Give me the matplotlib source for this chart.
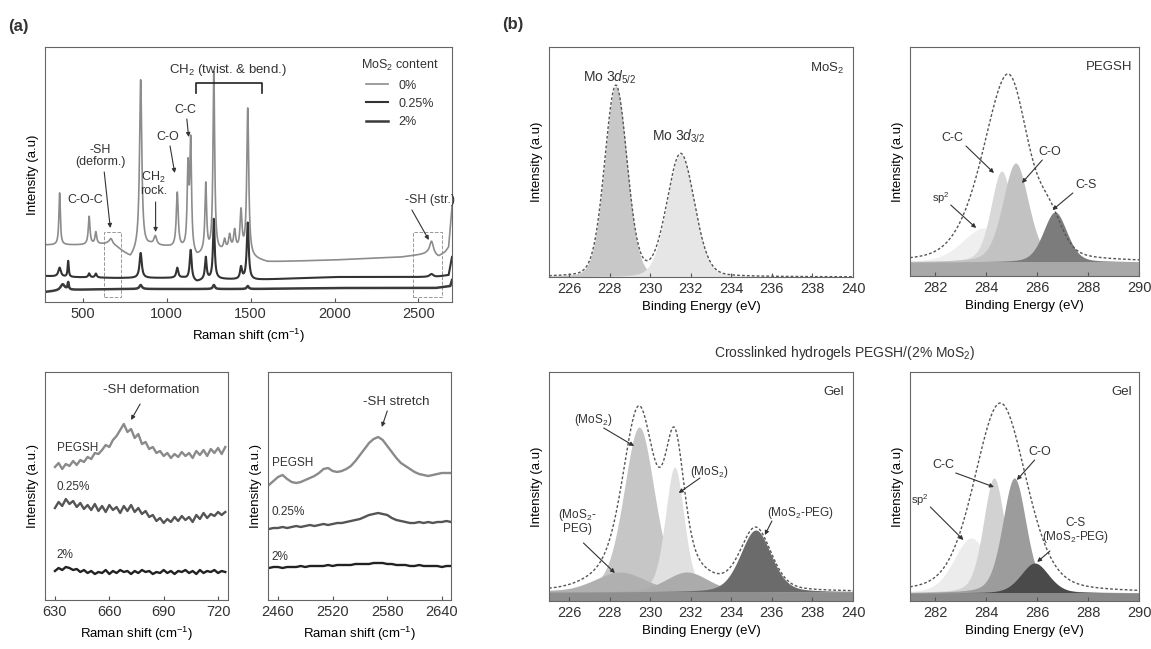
import numpy as np
import matplotlib.pyplot as plt
from matplotlib.patches import Rectangle

plt.rcParams['font.family'] = ['Liberation Sans', 'DejaVu Sans']
plt.rcParams['mathtext.fontset'] = 'custom'
plt.rcParams['mathtext.rm'] = 'Liberation Sans'
plt.rcParams['mathtext.it'] = 'Liberation Sans:italic'
plt.rcParams['text.color'] = '#333333'
plt.rcParams['axes.edgecolor'] = '#666666'
plt.rcParams['xtick.color'] = '#555555'
plt.rcParams['xtick.labelcolor'] = '#333333'

# ---------------- Raman survey (a) ----------------
raman_labels = ['0%', '0.25%', '2%']
raman_colors = ['#8c8c8c', '#333333', '#3a3a3a']
raman_widths = [1.2, 1.5, 1.8]

base_x_0 = [275, 350, 500, 650, 700, 784, 820, 900, 1000, 1100, 1180, 1220, 1300, 1400, 1500, 1600, 2000, 2400, 2500, 2550, 2620, 2660, 2680, 2690, 2700]
base_y_0 = [57, 57, 57, 58, 55, 44, 50, 56, 55, 52, 44, 48, 49, 52, 44, 40, 42, 45, 47, 48, 45, 50, 55, 75, 95]
peak_c_0 = [362, 538, 578, 668, 845, 932, 1063, 1127, 1143, 1233, 1281, 1345, 1375, 1405, 1443, 1483, 2578]
peak_h_0 = [52, 28, 12, 6, 170, 9, 55, 80, 108, 68, 180, 10, 14, 18, 40, 147, 14]
peak_w_0 = [5, 6, 6, 12, 8, 10, 7, 6, 6, 6, 6, 7, 7, 7, 7, 7, 14]

base_x_25 = [275, 400, 700, 1100, 1180, 1220, 1300, 1500, 2000, 2600, 2680, 2700]
base_y_25 = [26, 25, 24, 24, 20, 22, 23, 22, 25, 25, 27, 45]
peak_c_25 = [362, 413, 538, 578, 845, 1063, 1143, 1233, 1281, 1443, 1483, 2578]
peak_h_25 = [9, 16, 4, 4, 25, 10, 30, 22, 60, 12, 57, 3]
peak_w_25 = [9, 4, 6, 6, 8, 7, 7, 6, 6, 7, 7, 14]

base_x_2 = [275, 400, 700, 1500, 2000, 2600, 2690, 2700]
base_y_2 = [10, 12, 13, 13, 14, 14, 16, 22]
peak_c_2 = [380, 413, 845, 1281, 1483]
peak_h_2 = [6, 7, 4, 4, 3]
peak_w_2 = [15, 4, 9, 7, 7]

# ---------------- Raman insets ----------------
sh_def_x = list(range(630, 726, 2))
sh_def_peg = [133, 137, 131, 136, 134, 139, 135, 140, 138, 143, 141, 147, 146, 150, 155, 153,
              160, 164, 170, 176, 168, 171, 162, 166, 156, 158, 151, 153, 147, 149, 144, 147,
              142, 146, 143, 148, 144, 147, 142, 149, 145, 150, 144, 151, 147, 152, 146, 153]
sh_def_025 = [92, 98, 94, 101, 96, 99, 93, 97, 91, 95, 90, 96, 89, 94, 88, 95,
              90, 93, 87, 94, 89, 95, 88, 92, 86, 89, 83, 85, 79, 82, 77, 81,
              78, 83, 79, 84, 80, 83, 78, 85, 81, 87, 82, 86, 84, 88, 85, 88]
sh_def_2 = [29, 32, 30, 33, 32, 30, 31, 28, 30, 27, 29, 26, 28, 27, 30, 26,
            29, 27, 30, 28, 29, 26, 29, 27, 30, 28, 29, 26, 28, 27, 30, 27,
            29, 26, 29, 28, 30, 27, 29, 26, 30, 27, 29, 28, 30, 27, 29, 28]

sh_str_x = list(range(2450, 2651, 5))
sh_str_peg = [115, 119, 123, 125, 121, 118, 117, 118, 120, 122, 124, 127, 131, 132, 129, 128,
              129, 131, 134, 139, 145, 151, 157, 161, 163, 160, 154, 148, 142, 137, 134, 131,
              128, 126, 125, 124, 125, 126, 127, 127, 127]
sh_str_025 = [71, 72, 72, 73, 72, 73, 74, 73, 74, 75, 74, 75, 76, 75, 76, 77,
              77, 78, 79, 80, 81, 83, 85, 86, 87, 86, 85, 82, 80, 79, 78, 77,
              77, 78, 77, 78, 77, 78, 78, 79, 78]
sh_str_2 = [32, 33, 33, 32, 33, 33, 33, 34, 33, 34, 34, 34, 34, 35, 34, 35,
            35, 35, 35, 36, 36, 36, 36, 37, 37, 37, 36, 36, 35, 35, 35, 34,
            34, 35, 34, 34, 34, 34, 33, 34, 34]

# ---------------- XPS (b) ----------------
# Mo 3d of MoS2: components (center eV, height, FWHM)
mo_c = [228.3, 231.5]
mo_h = [190, 122]
mo_w = [1.3, 1.6]
mo_colors = ['#c8c8c8', '#e6e6e6']

# C 1s of PEGSH: sp2, C-C, C-O, C-S
peg_bg = 14
peg_c = [283.9, 284.6, 285.15, 286.7]
peg_h = [34, 91, 99, 50]
peg_w = [2.0, 1.0, 1.2, 1.1]
peg_colors = ['#efefef', '#d8d8d8', '#c2c2c2', '#7c7c7c']
peg_env_c = [284.2, 285.0, 286.5]
peg_env_h = [75, 132, 35]
peg_env_w = [2.2, 1.7, 1.2]

# Mo 3d of gel
gel_mo_bg = 9
gel_mo_c = [229.45, 231.2, 228.5, 231.8, 235.2]
gel_mo_h = [165, 125, 20, 20, 62]
gel_mo_w = [1.8, 1.1, 3.0, 2.5, 1.8]
gel_mo_colors = ['#c6c6c6', '#e0e0e0', '#b0b0b0', '#ababab', '#6b6b6b']

# C 1s of gel: sp2, C-C, C-O, C-S
gel_c_bg = 8
gel_c_c = [283.4, 284.3, 285.1, 285.9]
gel_c_h = [55, 115, 115, 30]
gel_c_w = [1.6, 1.0, 1.1, 1.3]
gel_c_colors = ['#ececec', '#d2d2d2', '#9c9c9c', '#4a4a4a']
gel_env_c = [284.55]
gel_env_h = [190]
gel_env_w = [2.4]


def lorentz(x, centers, heights, widths):
    y = np.zeros_like(x)
    for c, h, w in zip(centers, heights, widths):
        y += h / (1 + ((x - c) / w) ** 2)
    return y


def pvoigt(x, c, h, fwhm, eta=0.3):
    s = fwhm / 2
    r2 = ((x - c) / s) ** 2
    return h * ((1 - eta) * np.exp(-np.log(2) * r2) + eta / (1 + r2))


W, H = 1151, 649
fig = plt.figure(figsize=(W / 100, H / 100), dpi=100)


def add_ax(l, t, r, b):
    return fig.add_axes([l / W, 1 - b / H, (r - l) / W, (b - t) / H])


arrow = dict(arrowstyle='-|>', color='#333333', lw=0.8, mutation_scale=6, shrinkA=0, shrinkB=0)
fs_tick = 10.5
fs_lab = 9.5
fs_ann = 9

# ---- (a) top Raman ----
ax = add_ax(45, 47, 452, 302)
x = np.linspace(275, 2700, 5000)
traces = [
    np.interp(x, base_x_0, base_y_0) + lorentz(x, peak_c_0, peak_h_0, peak_w_0),
    np.interp(x, base_x_25, base_y_25) + lorentz(x, peak_c_25, peak_h_25, peak_w_25),
    np.interp(x, base_x_2, base_y_2) + lorentz(x, peak_c_2, peak_h_2, peak_w_2),
]
for y, lab, col, lw in zip(traces, raman_labels, raman_colors, raman_widths):
    ax.plot(x, y, color=col, lw=lw, label=lab)
ax.set_xlim(275, 2700)
ax.set_ylim(0, 255)
ax.set_yticks([])
ax.set_xticks([500, 1000, 1500, 2000, 2500])
ax.tick_params(axis='x', direction='in', length=3, labelsize=fs_tick)
ax.set_xlabel('Raman shift (cm$^{-1}$)', fontsize=fs_lab)
ax.set_ylabel('Intensity (a.u)', fontsize=fs_lab)
leg = ax.legend(title='MoS$_2$ content', frameon=False, loc='upper right',
                bbox_to_anchor=(0.995, 1.0), fontsize=9, title_fontsize=9,
                handlelength=1.8, labelspacing=0.5)
for r in [(625, 725), (2470, 2640)]:
    ax.add_patch(Rectangle((r[0], 5), r[1] - r[0], 65, fill=False, ls='--', lw=0.7, ec='#999999'))
ax.plot([1173, 1173, 1568, 1568], [209, 219, 219, 209], color='#222222', lw=1.2)
ax.text(1365, 232, 'CH$_2$ (twist. & bend.)', ha='center', va='center', fontsize=9.5)
ax.text(515, 102, 'C-O-C', ha='center', va='center', fontsize=fs_ann)
ax.text(604, 146, '-SH\n(deform.)', ha='center', va='center', fontsize=fs_ann, linespacing=1.0)
ax.annotate('', xy=(664, 74), xytext=(628, 130), arrowprops=arrow)
ax.text(922, 119, 'CH$_2$\nrock.', ha='center', va='center', fontsize=fs_ann, linespacing=1.0)
ax.annotate('', xy=(934, 70), xytext=(934, 100), arrowprops=arrow)
ax.text(1005, 165, 'C-O', ha='center', va='center', fontsize=fs_ann)
ax.annotate('', xy=(1048, 129), xytext=(1020, 156), arrowprops=arrow)
ax.text(1113, 192, 'C-C', ha='center', va='center', fontsize=fs_ann)
ax.annotate('', xy=(1131, 165), xytext=(1120, 183), arrowprops=arrow)
ax.text(2568, 102, '-SH (str.)', ha='center', va='center', fontsize=fs_ann)
ax.annotate('', xy=(2562, 62), xytext=(2461, 92), arrowprops=arrow)

# ---- (a) insets ----
inset_cfg = [
    ((45, 372, 228, 600), sh_def_x, [sh_def_peg, sh_def_025, sh_def_2], (624.5, 725.5),
     [630, 660, 690, 720], 631, [152, 113, 45], '-SH deformation', (683, 210), (672, 180), (677, 196)),
    ((268, 372, 451, 600), sh_str_x, [sh_str_peg, sh_str_025, sh_str_2], (2449, 2650),
     [2460, 2520, 2580, 2640], 2453, [137, 88, 43], '-SH stretch', (2590, 198), (2574, 173), (2580, 189)),
]
inset_colors = ['#8a8a8a', '#555555', '#222222']
for box, xs, ys, xl, ticks, lx, ly, title, tpos, tip, start in inset_cfg:
    a = add_ax(*box)
    for yv, col in zip(ys, inset_colors):
        a.plot(xs, yv, color=col, lw=1.7)
    a.set_xlim(*xl)
    a.set_ylim(0, 228)
    a.set_yticks([])
    a.set_xticks(ticks)
    a.tick_params(axis='x', direction='in', length=3, labelsize=fs_tick)
    a.set_xlabel('Raman shift (cm$^{-1}$)', fontsize=fs_lab)
    a.set_ylabel('Intensity (a.u.)', fontsize=fs_lab)
    for lab, yy in zip(['PEGSH', '0.25%', '2%'], ly):
        a.text(lx, yy, lab, fontsize=8.5, va='center')
    a.text(tpos[0], tpos[1], title, ha='center', va='center', fontsize=fs_lab)
    a.annotate('', xy=tip, xytext=start, arrowprops=arrow)


# ---- (b) XPS ----
def xps_axis(box, xl, ticks, tag):
    a = add_ax(*box)
    a.set_xlim(*xl)
    a.set_ylim(0, 229)
    a.set_yticks([])
    a.set_xticks(ticks)
    a.tick_params(axis='x', direction='in', length=3, labelsize=fs_tick)
    a.set_xlabel('Binding Energy (eV)', fontsize=fs_lab)
    a.set_ylabel('Intensity (a.u)', fontsize=fs_lab)
    a.text(0.97, 0.94, tag, transform=a.transAxes, ha='right', va='top', fontsize=fs_lab)
    return a


env_style = dict(color='#555555', lw=1.0, ls=(0, (2, 1.5)))
mo_ticks = list(range(226, 241, 2))
c_ticks = list(range(282, 291, 2))

# MoS2 Mo 3d
a = xps_axis((549, 47, 853, 277), (225, 240), mo_ticks, 'MoS$_2$')
e = np.linspace(225, 240, 1500)
comps = [pvoigt(e, c, h, w, eta=0.15) for c, h, w in zip(mo_c, mo_h, mo_w)]
for cp, col in zip(comps, mo_colors):
    a.fill_between(e, 0, cp, color=col, lw=0)
a.plot(e, sum(comps), **env_style)
a.text(228.0, 199, 'Mo 3$d_{5/2}$', ha='center', va='center', fontsize=10)
a.text(231.4, 140, 'Mo 3$d_{3/2}$', ha='center', va='center', fontsize=10)

# PEGSH C 1s
a = xps_axis((910, 47, 1139, 276), (281, 290), c_ticks, 'PEGSH')
e = np.linspace(281, 290, 1500)
for c, h, w, col in zip(peg_c, peg_h, peg_w, peg_colors):
    a.fill_between(e, peg_bg, peg_bg + pvoigt(e, c, h, w), color=col, lw=0)
a.fill_between(e, 0, peg_bg, color='#a8a8a8', lw=0)
env = peg_bg + sum(pvoigt(e, c, h, w) for c, h, w in zip(peg_env_c, peg_env_h, peg_env_w))
a.plot(e, env, **env_style)
a.text(282.65, 138, 'C-C', ha='center', va='center', fontsize=fs_ann)
a.annotate('', xy=(284.3, 103), xytext=(283.2, 130), arrowprops=arrow)
a.text(286.5, 124, 'C-O', ha='center', va='center', fontsize=fs_ann)
a.annotate('', xy=(285.4, 93), xytext=(286.2, 116), arrowprops=arrow)
a.text(287.9, 91, 'C-S', ha='center', va='center', fontsize=fs_ann)
a.annotate('', xy=(286.6, 66), xytext=(287.4, 83), arrowprops=arrow)
a.text(282.2, 78, 'sp$^2$', ha='center', va='center', fontsize=8)
a.annotate('', xy=(283.6, 48), xytext=(282.6, 71), arrowprops=arrow)

# Gel Mo 3d
a = xps_axis((549, 372, 853, 601), (225, 240), mo_ticks, 'Gel')
e = np.linspace(225, 240, 1500)
comps = [pvoigt(e, c, h, w) for c, h, w in zip(gel_mo_c, gel_mo_h, gel_mo_w)]
for cp, col in zip(comps, gel_mo_colors):
    a.fill_between(e, gel_mo_bg, gel_mo_bg + cp, color=col, lw=0)
a.fill_between(e, 0, gel_mo_bg, color='#8f8f8f', lw=0)
a.plot(e, gel_mo_bg + sum(comps), **env_style)
a.text(227.2, 181, '(MoS$_2$)', ha='center', va='center', fontsize=8.5)
a.annotate('', xy=(229.2, 155), xytext=(227.7, 173), arrowprops=arrow)
a.text(232.9, 129, '(MoS$_2$)', ha='center', va='center', fontsize=8.5)
a.annotate('', xy=(231.4, 108), xytext=(232.45, 123), arrowprops=arrow)
a.text(226.4, 80, '(MoS$_2$-\nPEG)', ha='center', va='center', fontsize=8.5, linespacing=1.0)
a.annotate('', xy=(228.25, 28), xytext=(226.7, 58), arrowprops=arrow)
a.text(237.4, 88, '(MoS$_2$-PEG)', ha='center', va='center', fontsize=8.5)
a.annotate('', xy=(235.65, 66), xytext=(236.0, 80), arrowprops=arrow)

# Gel C 1s
a = xps_axis((910, 372, 1139, 601), (281, 290), c_ticks, 'Gel')
e = np.linspace(281, 290, 1500)
for c, h, w, col in zip(gel_c_c, gel_c_h, gel_c_w, gel_c_colors):
    a.fill_between(e, gel_c_bg, gel_c_bg + pvoigt(e, c, h, w), color=col, lw=0)
a.fill_between(e, 0, gel_c_bg, color='#8a8a8a', lw=0)
env = gel_c_bg + sum(pvoigt(e, c, h, w) for c, h, w in zip(gel_env_c, gel_env_h, gel_env_w))
a.plot(e, env, **env_style)
a.text(282.3, 136, 'C-C', ha='center', va='center', fontsize=fs_ann)
a.annotate('', xy=(284.3, 114), xytext=(282.8, 128), arrowprops=arrow)
a.text(286.1, 149, 'C-O', ha='center', va='center', fontsize=fs_ann)
a.annotate('', xy=(285.2, 121), xytext=(285.9, 141), arrowprops=arrow)
a.text(281.4, 101, 'sp$^2$', ha='center', va='center', fontsize=8)
a.annotate('', xy=(283.1, 61), xytext=(281.8, 94), arrowprops=arrow)
a.text(287.5, 70, 'C-S\n(MoS$_2$-PEG)', ha='center', va='center', fontsize=8.5, linespacing=1.0)
a.annotate('', xy=(286.0, 39), xytext=(286.5, 50), arrowprops=arrow)

fig.text(845 / W, 1 - 353 / H, 'Crosslinked hydrogels PEGSH/(2% MoS$_2$)', ha='center', va='center', fontsize=10)
fig.text(8 / W, 1 - 26 / H, '(a)', ha='left', va='center', fontsize=12, fontweight='bold')
fig.text(502 / W, 1 - 24 / H, '(b)', ha='left', va='center', fontsize=12, fontweight='bold')

fig.savefig('out.png', dpi=100)
